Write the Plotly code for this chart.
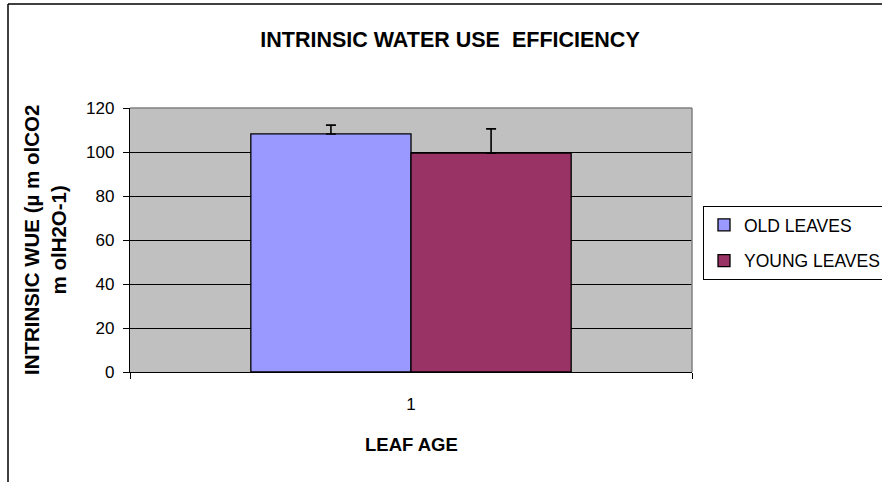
import plotly.graph_objects as go

# ---- data ----
categories = ["1"]
series_names = ["OLD LEAVES", "YOUNG LEAVES"]
series_values = [[108.2], [99.5]]
series_errors = [[4.0], [11.0]]
series_colors = ["#9999FF", "#993366"]
y_ticks = [0, 20, 40, 60, 80, 100, 120]

title_text = "INTRINSIC WATER USE&nbsp; EFFICIENCY"
x_title = "LEAF AGE"
y_title = "INTRINSIC WUE (µ m olCO2<br>m olH2O-1)"

W, H = 882, 482
L, R, T, B = 130, 190, 108, 110
plot_w = W - L - R
plot_h = H - T - B

def px_x(p):
    return (p - L) / plot_w

def px_y(p):
    return (H - B - p) / plot_h

FONT = "Liberation Sans, Arial, sans-serif"

fig = go.Figure()
for name, vals, errs, col in zip(series_names, series_values, series_errors, series_colors):
    fig.add_trace(go.Bar(
        x=categories, y=vals, name=name,
        marker=dict(color=col, line=dict(color="black", width=1.3)),
        error_y=dict(type="data", array=errs, arrayminus=[0] * len(errs),
                     symmetric=False, color="black", thickness=1.6, width=5),
        legendgroup=name,
    ))

fig.update_layout(
    width=W, height=H,
    margin=dict(l=L, r=R, t=T, b=B, autoexpand=False),
    paper_bgcolor="white", plot_bgcolor="#C0C0C0",
    barmode="group", bargap=0.43, bargroupgap=0,
    font=dict(family=FONT, color="black", size=17),
    title=dict(text="<b>" + title_text + "</b>", x=450 / W, xref="container",
               xanchor="center", y=1 - 39 / H, yref="container", yanchor="middle",
               font=dict(size=21.5, family=FONT, color="black")),
    showlegend=True,
    legend=dict(x=px_x(703), y=px_y(206), xanchor="left", yanchor="top",
                bgcolor="white", bordercolor="black", borderwidth=1,
                font=dict(size=17.5, family=FONT, color="black"),
                itemwidth=30,
                traceorder="grouped", tracegroupgap=10),
    xaxis=dict(type="category", showline=True, linecolor="black", linewidth=1.3,
               ticks="outside", tickson="boundaries", ticklen=6, tickcolor="black",
               showgrid=False, tickfont=dict(size=17), ticklabelstandoff=16),
    yaxis=dict(range=[0, 120], tickvals=y_ticks, showline=True, linecolor="black",
               linewidth=1.3, ticks="outside", ticklen=6, tickcolor="black",
               showgrid=True, gridcolor="black", gridwidth=1, zeroline=False,
               tickfont=dict(size=17), ticklabelstandoff=5),
    annotations=[
        dict(text="<b>" + x_title + "</b>", xref="paper", yref="paper",
             x=px_x(411), y=px_y(445), xanchor="center", yanchor="middle",
             showarrow=False, font=dict(size=18.5, family=FONT, color="black")),
        dict(text="<b>" + y_title + "</b>", xref="paper", yref="paper",
             x=px_x(45), y=0.5, xanchor="center", yanchor="middle", textangle=-90,
             showarrow=False, font=dict(size=20.5, family=FONT, color="black")),
    ],
    shapes=[
        # grey top/right border of plot area
        dict(type="line", xref="paper", yref="paper", x0=0, x1=1, y0=1, y1=1,
             line=dict(color="#808080", width=1.5), layer="above"),
        dict(type="line", xref="paper", yref="paper", x0=1, x1=1, y0=0, y1=1,
             line=dict(color="#808080", width=1.5), layer="above"),
        # outer chart frame (left and top edges visible)
        dict(type="line", xref="paper", yref="paper", x0=px_x(8), x1=px_x(900),
             y0=px_y(4), y1=px_y(4), line=dict(color="black", width=1.5), layer="above"),
        dict(type="line", xref="paper", yref="paper", x0=px_x(8), x1=px_x(8),
             y0=px_y(4), y1=px_y(500), line=dict(color="black", width=1.5), layer="above"),
    ],
)

fig.write_html("out.html", config={"displayModeBar": False},
               post_script="document.body.style.margin='0';")
